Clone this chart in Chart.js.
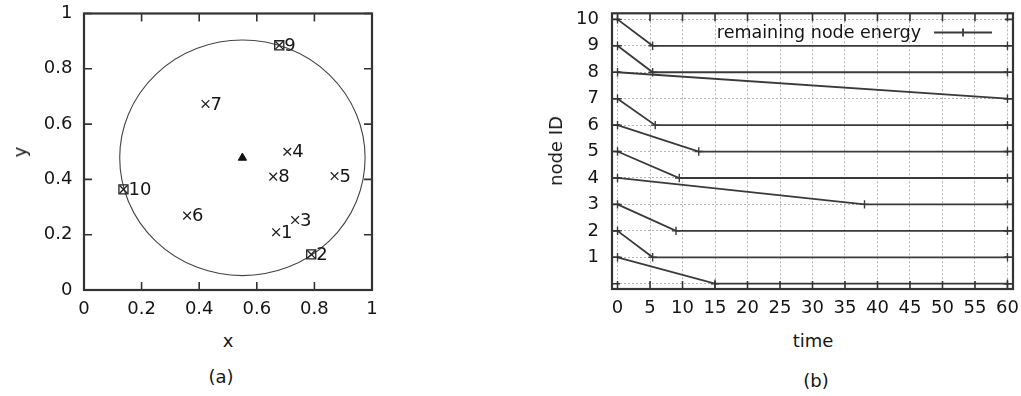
<!DOCTYPE html>
<html>
<head>
<meta charset="utf-8">
<script src="https://cdn.jsdelivr.net/npm/chart.js@4.4.1/dist/chart.umd.min.js"></script>
<style>
  body { margin: 0; background: #fff; }
  #wrap { position: relative; width: 1021px; height: 396px; overflow: hidden; font-family: "DejaVu Sans", sans-serif; color: #151515; }
  canvas { position: absolute; top: 0; }
  #chartA { left: 0; }
  #chartB { left: 480px; }
  .lbl { position: absolute; font-size: 18px; line-height: 1; white-space: nowrap; transform: translate(-50%, -50%); }
  .rot { transform: translate(-50%, -50%) rotate(-90deg); }
</style>
</head>
<body>
<div id="wrap">
  <canvas id="chartA" width="420" height="330"></canvas>
  <canvas id="chartB" width="541" height="330"></canvas>
  <div class="lbl rot" style="left:20px; top:152px">y</div>
  <div class="lbl" style="left:228px; top:341px">x</div>
  <div class="lbl" style="left:221px; top:377px">(a)</div>
  <div class="lbl rot" style="left:556px; top:151px">node ID</div>
  <div class="lbl" style="left:813px; top:341px">time</div>
  <div class="lbl" style="left:816px; top:381px">(b)</div>
</div>
<script>
// (a) node positions in the unit square
const nodeIds = ['1', '2', '3', '4', '5', '6', '7', '8', '9', '10'];
const nodeX = [0.667, 0.789, 0.733, 0.706, 0.870, 0.358, 0.422, 0.657, 0.678, 0.137];
const nodeY = [0.209, 0.129, 0.253, 0.500, 0.412, 0.269, 0.673, 0.410, 0.885, 0.364];
const headIds = [2, 9, 10];
const sinkPos = [0.55, 0.478];
const rangeRadius = 0.426;
const posTicks = [0, 0.2, 0.4, 0.6, 0.8, 1];

// (b) time at which each node drops one level
const energyNodes = [1, 2, 3, 4, 5, 6, 7, 8, 9, 10];
const dropTime = [15, 5.4, 9, 38, 9.5, 12.5, 5.8, 60, 5.4, 5.4];
const endTime = 60;
const timeTicks = [0, 5, 10, 15, 20, 25, 30, 35, 40, 45, 50, 55, 60];
const idTicks = [0, 1, 2, 3, 4, 5, 6, 7, 8, 9, 10];

Chart.defaults.font.family = '"DejaVu Sans", sans-serif';
Chart.defaults.font.size = 18;
Chart.defaults.color = '#151515';

const ink = '#333';

// keep the plot box where the layout padding puts it
function noOverhang(s) {
  s.paddingTop = 0; s.paddingBottom = 0; s.paddingLeft = 0; s.paddingRight = 0;
}

// gnuplot style box with ticks pointing inwards on all four sides
const frameTicks = {
  id: 'frameTicks',
  afterDatasetsDraw(chart, args, opts) {
    const ctx = chart.ctx;
    const a = chart.chartArea;
    const sx = chart.scales.x, sy = chart.scales.y;
    const len = opts.len || 8;
    ctx.save();
    ctx.strokeStyle = ink;
    ctx.lineWidth = 1.6;
    ctx.beginPath();
    sx.ticks.forEach(t => {
      const px = sx.getPixelForValue(t.value);
      ctx.moveTo(px, a.bottom); ctx.lineTo(px, a.bottom - len);
      ctx.moveTo(px, a.top); ctx.lineTo(px, a.top + len);
    });
    sy.ticks.forEach(t => {
      const py = sy.getPixelForValue(t.value);
      ctx.moveTo(a.left, py); ctx.lineTo(a.left + len, py);
      ctx.moveTo(a.right, py); ctx.lineTo(a.right - len, py);
    });
    ctx.stroke();
    ctx.lineWidth = 2.2;
    ctx.strokeRect(a.left, a.top, a.right - a.left, a.bottom - a.top);
    ctx.restore();
  }
};

// radio range around the sink
const rangeCircle = {
  id: 'rangeCircle',
  beforeDatasetsDraw(chart) {
    const ctx = chart.ctx;
    const sx = chart.scales.x, sy = chart.scales.y;
    const cx = sx.getPixelForValue(sinkPos[0]);
    const cy = sy.getPixelForValue(sinkPos[1]);
    const rx = Math.abs(sx.getPixelForValue(sinkPos[0] + rangeRadius) - cx);
    const ry = Math.abs(sy.getPixelForValue(sinkPos[1] + rangeRadius) - cy);
    ctx.save();
    ctx.strokeStyle = '#444';
    ctx.lineWidth = 1.1;
    ctx.beginPath();
    ctx.ellipse(cx, cy, rx, ry, 0, 0, Math.PI * 2);
    ctx.stroke();
    ctx.restore();
  }
};

const nodeLabels = {
  id: 'nodeLabels',
  afterDatasetsDraw(chart) {
    const ctx = chart.ctx;
    const meta = chart.getDatasetMeta(0);
    ctx.save();
    ctx.font = '18px "DejaVu Sans", sans-serif';
    ctx.fillStyle = '#151515';
    ctx.textAlign = 'left';
    ctx.textBaseline = 'middle';
    meta.data.forEach((el, i) => {
      ctx.fillText(nodeIds[i], el.x + 5, el.y + 1);
    });
    ctx.restore();
  }
};

const keyBox = {
  id: 'keyBox',
  afterDraw(chart, args, o) {
    const ds = chart.data.datasets[0];
    const ctx = chart.ctx;
    ctx.save();
    ctx.font = '17.5px "DejaVu Sans", sans-serif';
    ctx.fillStyle = '#151515';
    ctx.textAlign = 'right';
    ctx.textBaseline = 'middle';
    ctx.fillText(ds.label, o.x, o.y + 1);
    ctx.strokeStyle = ds.borderColor;
    ctx.lineWidth = ds.borderWidth;
    ctx.beginPath();
    ctx.moveTo(o.x + 13, o.y); ctx.lineTo(o.x + 71, o.y);
    ctx.moveTo(o.x + 42, o.y - 4); ctx.lineTo(o.x + 42, o.y + 4);
    ctx.stroke();
    ctx.restore();
  }
};

new Chart(document.getElementById('chartA'), {
  type: 'scatter',
  data: {
    datasets: [{
      label: 'nodes',
      data: nodeX.map((x, i) => ({ x: x, y: nodeY[i] })),
      pointStyle: 'crossRot',
      pointRadius: 5.4,
      borderColor: '#222',
      pointBorderWidth: 1.3
    }, {
      label: 'heads',
      data: headIds.map(id => ({ x: nodeX[id - 1], y: nodeY[id - 1] })),
      pointStyle: 'rect',
      pointRadius: 6.4,
      borderColor: '#222',
      backgroundColor: 'rgba(0,0,0,0)',
      pointBorderWidth: 1.3
    }, {
      label: 'sink',
      data: [{ x: sinkPos[0], y: sinkPos[1] }],
      pointStyle: 'triangle',
      pointRadius: 4.8,
      borderColor: '#111',
      backgroundColor: '#111',
      pointBorderWidth: 1
    }]
  },
  options: {
    responsive: false,
    animation: false,
    layout: { padding: { left: 0, right: 48, top: 13.5, bottom: 0 } },
    plugins: { legend: { display: false }, tooltip: { enabled: false }, frameTicks: { len: 8 } },
    scales: {
      x: {
        type: 'linear', min: 0, max: 1,
        afterBuildTicks: s => { s.ticks = posTicks.map(v => ({ value: v })); },
        afterFit: s => { s.height = 40; noOverhang(s); },
        grid: { display: false, drawTicks: false },
        border: { display: false },
        ticks: { padding: 9, callback: v => String(+v.toFixed(1)) }
      },
      y: {
        type: 'linear', min: 0, max: 1,
        afterBuildTicks: s => { s.ticks = posTicks.map(v => ({ value: v })); },
        afterFit: s => { s.width = 84; noOverhang(s); },
        grid: { display: false, drawTicks: false },
        border: { display: false },
        ticks: { padding: 11.5, callback: v => String(+v.toFixed(1)) }
      }
    }
  },
  plugins: [rangeCircle, frameTicks, nodeLabels]
});

const energyPoints = [];
energyNodes.forEach((id, i) => {
  energyPoints.push({ x: 0, y: id });
  energyPoints.push({ x: dropTime[i], y: id - 1 });
  if (dropTime[i] < endTime) energyPoints.push({ x: endTime, y: id - 1 });
  energyPoints.push({ x: endTime, y: null });
});

new Chart(document.getElementById('chartB'), {
  type: 'line',
  data: {
    datasets: [{
      label: 'remaining node energy',
      data: energyPoints,
      borderColor: '#3a3a3a',
      borderWidth: 1.8,
      pointStyle: 'cross',
      pointRadius: 4.2,
      pointBorderWidth: 1.4,
      pointBorderColor: '#3a3a3a',
      tension: 0,
      spanGaps: false
    }]
  },
  options: {
    responsive: false,
    animation: false,
    layout: { padding: { left: 0, right: 8, top: 13.3, bottom: 0 } },
    plugins: {
      legend: { display: false },
      tooltip: { enabled: false },
      frameTicks: { len: 8 },
      keyBox: { x: 441, y: 32.5 }
    },
    scales: {
      x: {
        type: 'linear', min: -0.85, max: 60.85,
        afterBuildTicks: s => { s.ticks = timeTicks.map(v => ({ value: v })); },
        afterFit: s => { s.height = 41; noOverhang(s); },
        grid: { color: '#b4b4b4', lineWidth: 1, drawTicks: false },
        border: { display: false, dash: [2, 2] },
        ticks: { padding: 9 }
      },
      y: {
        type: 'linear', min: -0.2, max: 10.23,
        afterBuildTicks: s => { s.ticks = idTicks.map(v => ({ value: v })); },
        afterFit: s => { s.width = 132; noOverhang(s); },
        grid: { color: '#b4b4b4', lineWidth: 1, drawTicks: false },
        border: { display: false, dash: [2, 2] },
        ticks: { padding: 13, callback: v => (v === 0 ? '' : v) }
      }
    }
  },
  plugins: [frameTicks, keyBox]
});
</script>
</body>
</html>
